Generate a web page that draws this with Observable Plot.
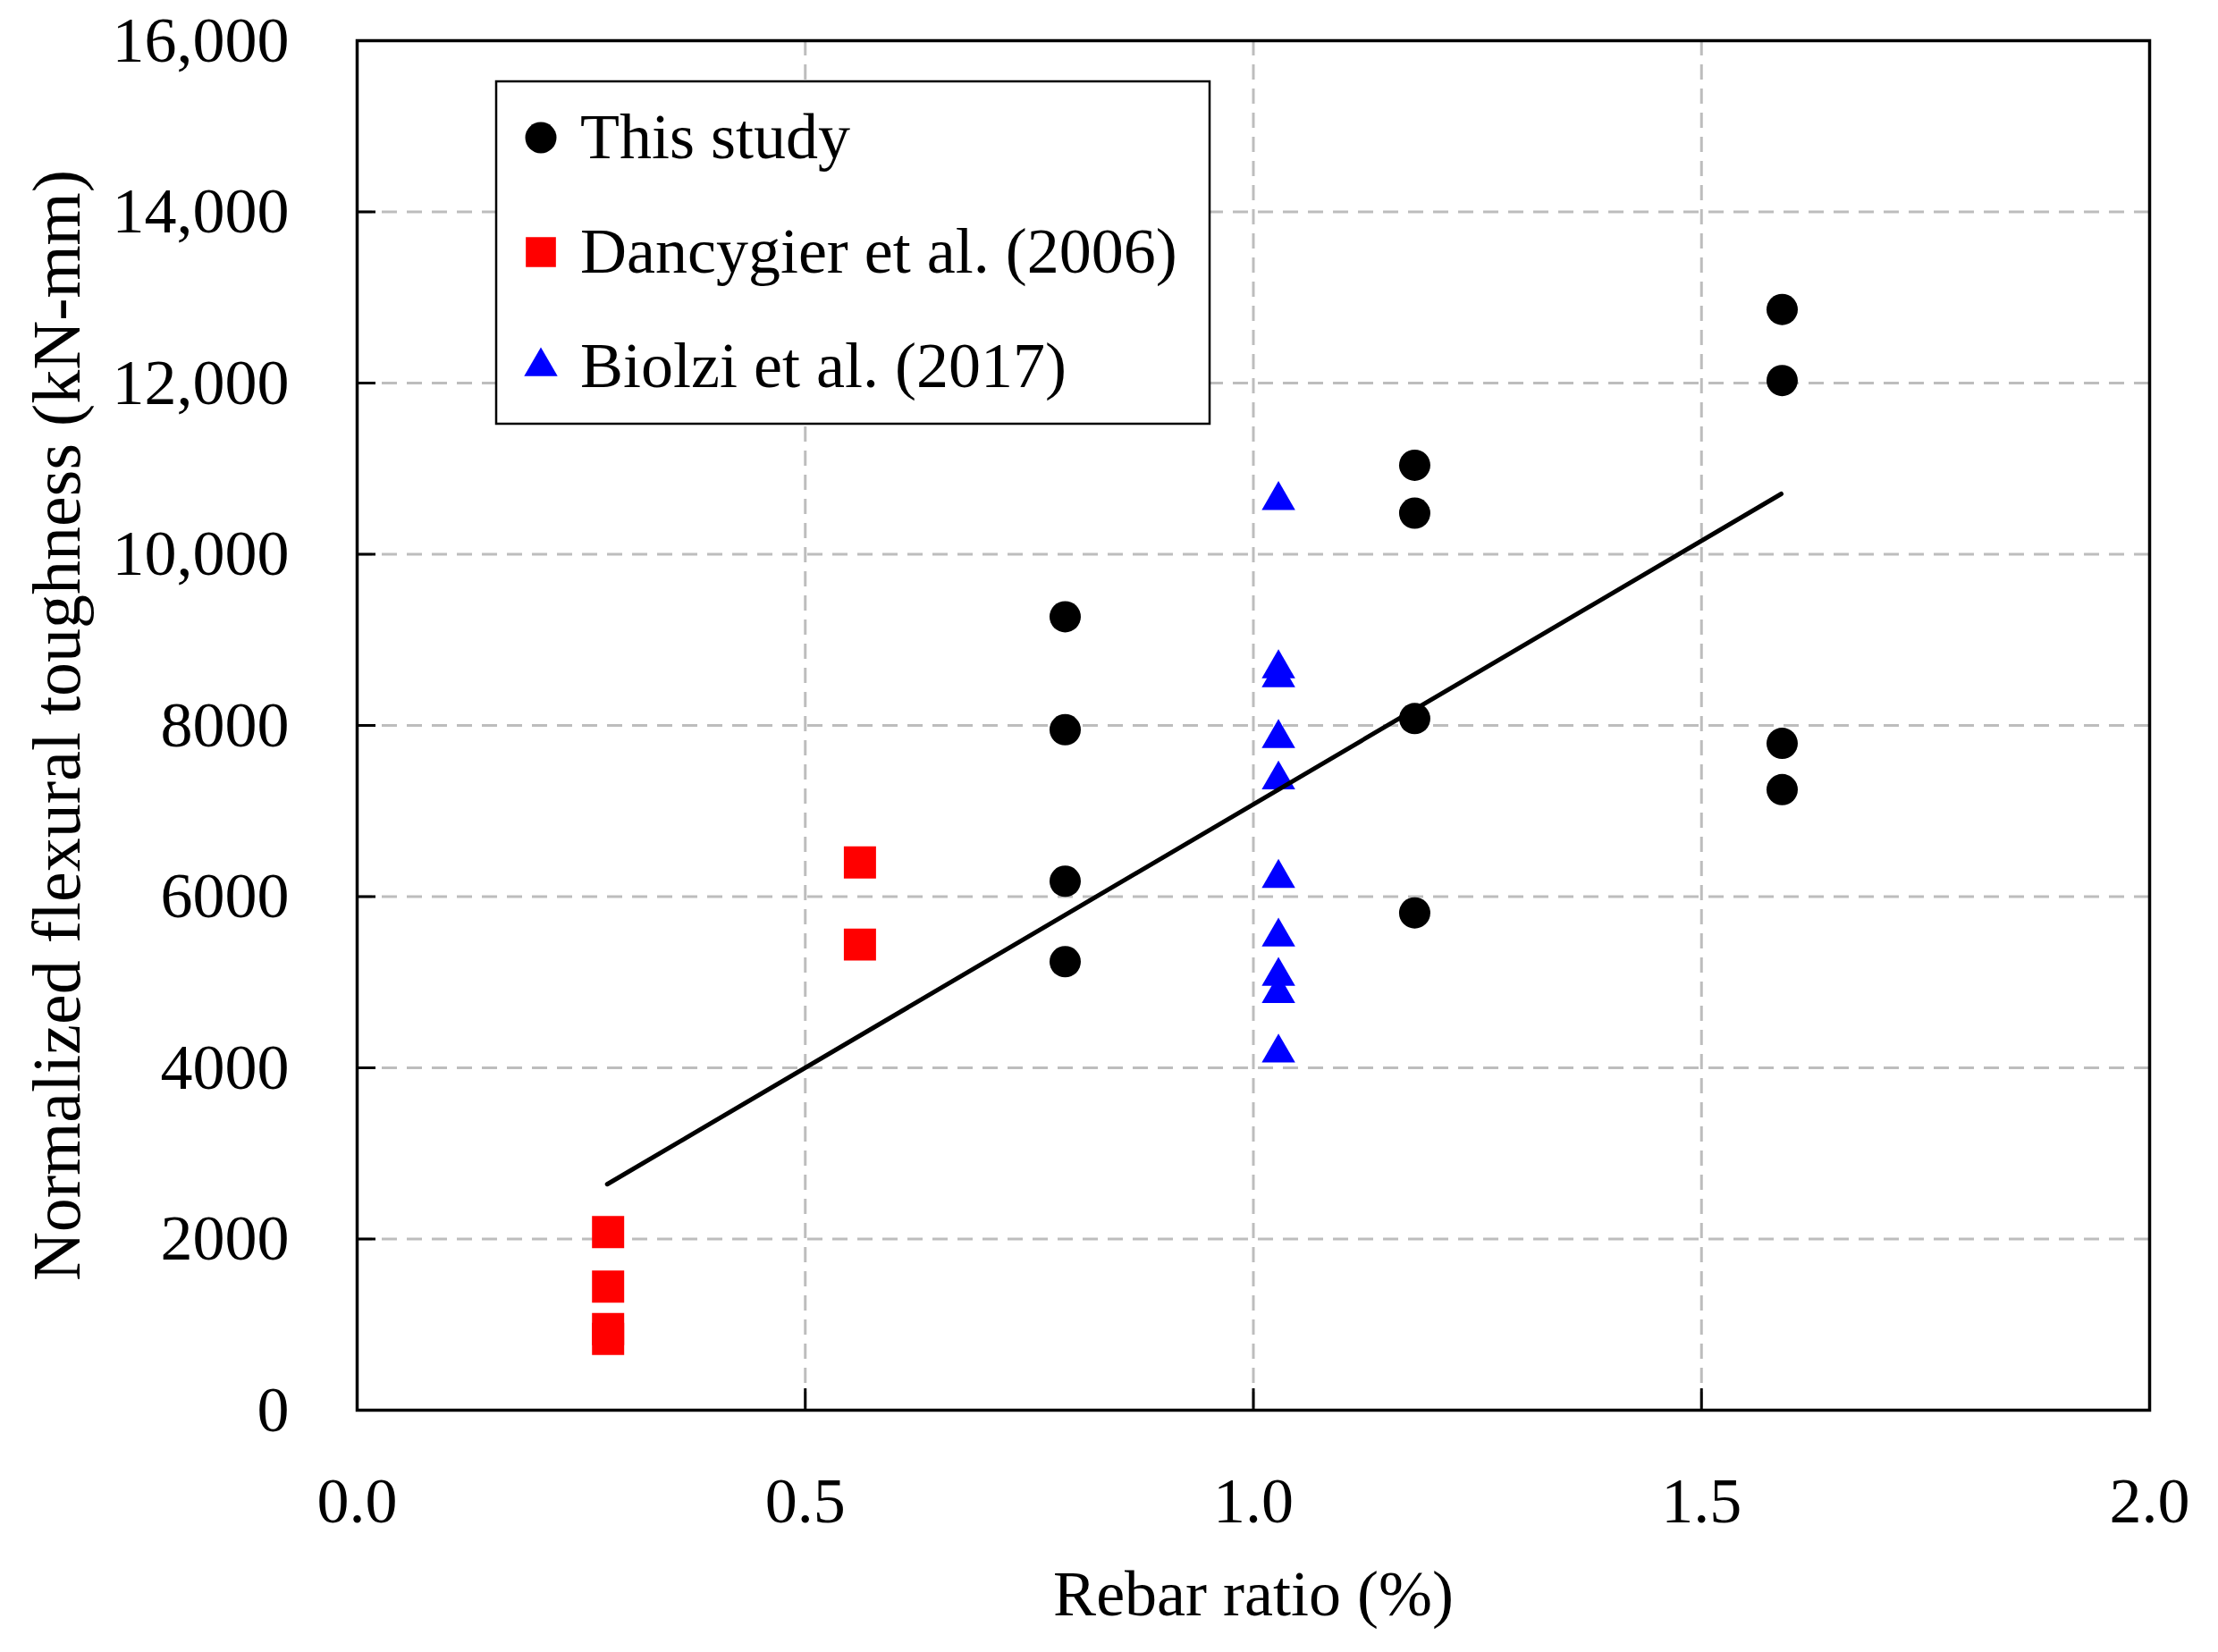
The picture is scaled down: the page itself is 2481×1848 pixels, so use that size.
<!DOCTYPE html>
<html>
<head>
<meta charset="utf-8">
<script src="https://cdn.jsdelivr.net/npm/d3@7"></script>
<script src="https://cdn.jsdelivr.net/npm/@observablehq/plot@0.6"></script>
<style>
  body { margin: 0; background: white; }
  #chart svg { display: block; }
</style>
</head>
<body>
<div id="chart"></div>
<script>
// This study
const studyX = [0.79, 0.79, 0.79, 0.79, 1.18, 1.18, 1.18, 1.18, 1.59, 1.59, 1.59, 1.59];
const studyY = [9270, 7950, 6180, 5240, 11040, 10480, 8080, 5810, 12860, 12030, 7790, 7250];

// Dancygier et al. (2006)
const dancX = [0.28, 0.28, 0.28, 0.28, 0.561, 0.561];
const dancY = [2080, 1445, 948, 833, 6400, 5440];

// Biolzi et al. (2017)
const biolX = [1.028, 1.028, 1.028, 1.028, 1.028, 1.028, 1.028, 1.028, 1.028, 1.028];
const biolY = [10630, 8665, 8560, 7850, 7365, 6215, 5530, 5070, 4870, 4175];

// fitted trend line (end points)
const fitX = [0.279, 1.589];
const fitY = [2640, 10705];

const xTicks = [0, 0.5, 1.0, 1.5, 2.0];
const yTicks = [0, 2000, 4000, 6000, 8000, 10000, 12000, 14000, 16000];
const xGrid = [0.5, 1.0, 1.5];
const yGrid = [2000, 4000, 6000, 8000, 10000, 12000, 14000];

const legendNames = ["This study", "Dancygier et al. (2006)", "Biolzi et al. (2017)"];
const legendColors = ["black", "#ff0000", "#0000ff"];

const W = 2481, H = 1848;
const mL = 399, mR = 77, mT = 45, mB = 271;
const plotW = W - mL - mR, plotH = H - mT - mB;
const font = "Liberation Serif";
const fmtY = d => d >= 10000 ? d3.format(",")(d) : String(d);

const chart = Plot.plot({
  width: W,
  height: H,
  marginLeft: mL,
  marginRight: mR,
  marginTop: mT,
  marginBottom: mB,
  style: {fontFamily: font, color: "black", background: "white"},
  x: {domain: [0, 2]},
  y: {domain: [0, 16000]},
  marks: [
    Plot.gridX(xGrid, {stroke: "#bdbdbd", strokeOpacity: 1, strokeWidth: 3, strokeDasharray: "17,10"}),
    Plot.gridY(yGrid, {stroke: "#bdbdbd", strokeOpacity: 1, strokeWidth: 3, strokeDasharray: "17,11"}),
    // inward tick marks
    Plot.ruleY(yTicks, {y: d => d, insetRight: plotW - 21, stroke: "black", strokeWidth: 3}),
    Plot.ruleX(xTicks, {x: d => d, insetTop: plotH - 24, stroke: "black", strokeWidth: 3}),
    Plot.dot(dancY, {x: dancX, y: dancY, symbol: "square", r: 20.3, fill: "#ff0000"}),
    Plot.dot(biolY, {x: biolX, y: biolY, symbol: "triangle", r: 13.9, fill: "#0000ff"}),
    Plot.dot(studyY, {x: studyX, y: studyY, r: 17.5, fill: "black"}),
    Plot.line(fitY, {x: fitX, y: fitY, stroke: "black", strokeWidth: 5}),
    Plot.frame({stroke: "black", strokeWidth: 3.5}),
    Plot.axisX({ticks: xTicks, tickFormat: d3.format(".1f"), tickSize: 0, tickPadding: 74, fontSize: 72, label: null}),
    Plot.axisY({ticks: yTicks, tickFormat: fmtY, tickSize: 0, tickPadding: 76, fontSize: 72, label: null}),
    Plot.text(["Rebar ratio (%)"], {frameAnchor: "bottom", textAnchor: "middle", dy: 229, fontSize: 72, fill: "black"}),
    Plot.text(["Normalized flexural toughness (kN-mm)"], {frameAnchor: "left", textAnchor: "middle", rotate: -90, dx: -335, fontSize: 76, fill: "black"})
  ]
});

// legend box in the upper left of the frame
const svg = d3.select(chart);
const lg = svg.append("g")
  .attr("font-family", font)
  .attr("font-size", 72)
  .attr("text-anchor", "start");
lg.append("rect")
  .attr("x", 555).attr("y", 91).attr("width", 798).attr("height", 383)
  .attr("fill", "white").attr("stroke", "black").attr("stroke-width", 2.5);
const legendSyms = [
  d3.symbol(d3.symbolCircle, Math.PI * 17.5 * 17.5),
  d3.symbol(d3.symbolSquare, Math.PI * 19 * 19),
  d3.symbol(d3.symbolTriangle, Math.PI * 13.9 * 13.9)
];
legendNames.forEach((name, i) => {
  const cy = 154 + i * 128;
  lg.append("path")
    .attr("transform", `translate(605,${cy})`)
    .attr("d", legendSyms[i]())
    .attr("fill", legendColors[i]);
  lg.append("text")
    .attr("x", 649).attr("y", cy).attr("dy", "0.32em")
    .attr("fill", "black")
    .text(name);
});

d3.select('#chart').append(() => chart);
</script>
</body>
</html>
